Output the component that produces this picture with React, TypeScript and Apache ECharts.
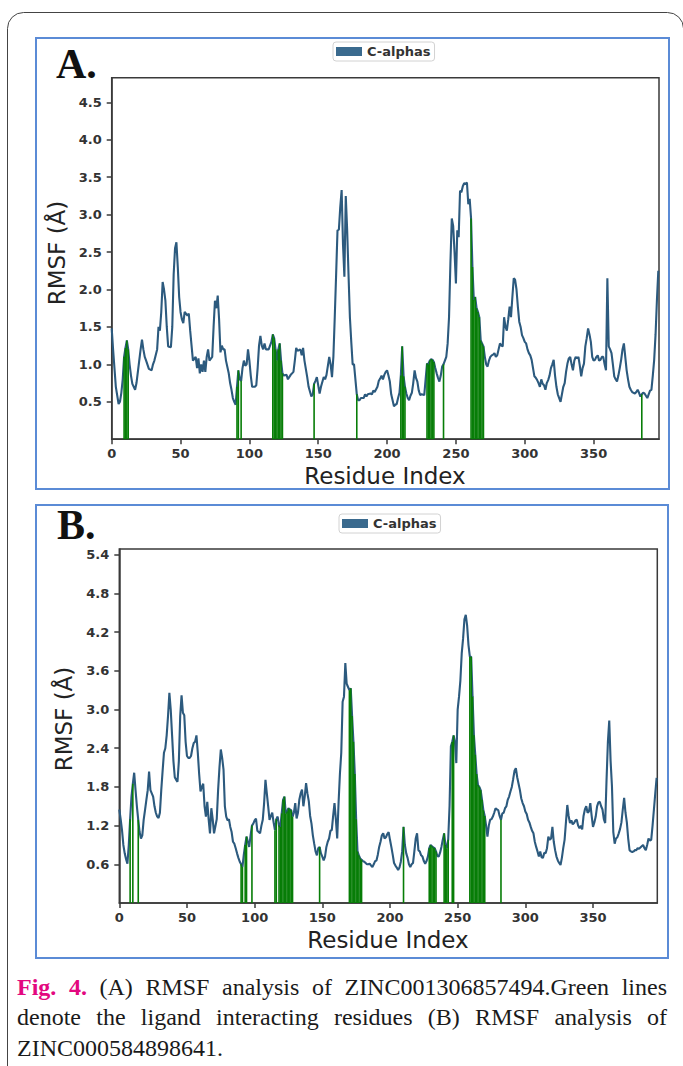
import React, { useEffect, useRef } from 'react';
import * as echarts from 'echarts';

const seriesName = 'C-alphas';
const xTicks = [0, 50, 100, 150, 200, 250, 300, 350];
const yTicksA = [0.5, 1.0, 1.5, 2.0, 2.5, 3.0, 3.5, 4.0, 4.5];
const yTicksB = [0.6, 1.2, 1.8, 2.4, 3.0, 3.6, 4.2, 4.8, 5.4];

// Panel A: residue index, RMSF (Å)
const rmsfA: [number, number][] = [
  [0,1.48],[1,1.2],[2,0.95],[3,0.7],[5,0.47],[6,0.5],[7,0.62],[8,0.8],[9,1.1],[10,1.22],[11,1.32],[12,1.2],[13,1.0],[14,0.85],[15,0.74],[17,0.66],[18,0.75],[19,0.9],
  [20,1.05],[21,1.2],[22,1.33],[23,1.2],[24,1.1],[25,1.05],[27,0.94],[29,0.92],[30,1.0],[31,1.05],[33,1.2],[34,1.5],[35,1.45],[36,1.7],[37,2.1],[38,2.0],[39,1.85],
  [40,1.5],[41,1.24],[43,1.23],[44,1.5],[45,2.2],[46,2.55],[47,2.63],[48,2.3],[49,1.9],[50,1.7],[51,1.6],[52,1.55],[53,1.7],[55,1.65],[56,1.68],[57,1.45],[58,1.25],[59,1.05],
  [61,1.1],[62,0.95],[63,1.08],[64,0.88],[65,1.0],[66,0.9],[67,1.05],[68,0.9],[69,1.1],[70,1.2],[71,1.05],[73,1.1],[74,1.5],[75,1.85],[76,1.75],[77,1.92],[78,1.6],[79,1.16],
  [80,1.25],[81,1.2],[82,1.2],[83,1.05],[85,0.88],[86,0.75],[87,0.66],[88,0.55],[89,0.5],[90,0.46],[91,0.7],[92,0.92],[93,0.8],[94,0.78],[95,0.95],[96,1.05],[97,0.98],[98,1.0],[99,1.2],
  [100,1.05],[101,0.85],[102,0.7],[104,0.7],[105,0.72],[106,0.95],[107,1.25],[108,1.38],[109,1.25],[110,1.2],[111,1.28],[112,1.2],[114,1.2],[115,1.25],[116,1.3],[117,1.4],[118,1.35],[119,1.2],
  [120,1.05],[121,1.2],[122,1.28],[123,1.05],[124,0.88],[125,0.85],[127,0.86],[128,0.8],[130,0.86],[131,0.88],[132,0.9],[133,1.05],[134,1.22],[135,1.18],[137,1.2],[138,1.12],[139,1.22],
  [140,1.05],[142,0.83],[143,0.7],[145,0.57],[146,0.6],[147,0.74],[148,0.78],[149,0.83],[150,0.72],[151,0.61],[152,0.7],[154,0.83],[155,0.8],[156,0.86],[157,0.98],[158,1.1],[159,1.0],
  [160,0.83],[161,1.1],[162,1.63],[163,2.2],[164,2.79],[165,2.8],[166,3.1],[167,3.33],[168,2.6],[169,2.17],[170,3.25],[171,2.8],[172,2.2],[173,1.63],[174,1.3],[175,1.0],[176,1.0],[177,0.8],[178,0.6],[179,0.52],
  [180,0.52],[181,0.55],[183,0.55],[184,0.6],[185,0.57],[186,0.6],[188,0.61],[189,0.6],[190,0.65],[191,0.63],[193,0.7],[194,0.78],[195,0.81],[196,0.85],[197,0.8],[198,0.86],[199,0.9],
  [200,0.92],[201,0.85],[202,0.77],[203,0.6],[204,0.52],[205,0.44],[206,0.46],[207,0.47],[208,0.55],[209,0.62],[210,0.85],[211,1.24],[212,0.84],[213,0.7],[214,0.61],[215,0.55],[216,0.52],[217,0.58],[218,0.62],[219,0.75],
  [220,0.92],[221,0.82],[222,0.77],[223,0.65],[224,0.59],[225,0.6],[227,0.59],[228,0.8],[229,1.01],[230,1.0],[231,1.05],[232,1.07],[233,1.06],[234,1.03],[235,0.95],[236,0.88],[237,0.82],[238,0.77],[239,0.85],
  [240,0.97],[241,1.0],[242,1.05],[243,1.1],[244,1.28],[245,1.63],[246,2.35],[247,2.95],[248,2.85],[249,2.5],[250,2.08],[251,2.79],[252,2.7],[253,3.32],[254,3.3],[255,3.38],[256,3.42],[257,3.41],[258,3.43],[259,3.14],
  [260,3.21],[261,2.95],[262,2.3],[263,1.86],[264,1.9],[265,1.75],[266,1.7],[267,1.63],[268,1.32],[269,1.28],[270,1.24],[271,1.1],[272,1.0],[273,0.97],[274,1.05],[275,1.1],[276,1.12],[277,1.13],[278,1.15],[279,1.1],
  [280,1.12],[281,1.2],[282,1.28],[283,1.25],[284,1.24],[285,1.63],[286,1.5],[287,1.45],[288,1.6],[289,1.77],[290,1.63],[291,1.9],[292,2.15],[293,2.13],[294,2.0],[295,1.77],[296,1.57],[297,1.5],[298,1.39],[299,1.35],
  [300,1.3],[301,1.28],[302,1.2],[303,1.15],[304,1.12],[305,1.06],[306,0.95],[307,0.84],[308,0.82],[309,0.79],[310,0.75],[311,0.7],[312,0.8],[313,0.74],[314,0.72],[315,0.66],[316,0.75],[317,0.79],[318,0.85],[319,0.95],
  [320,1.0],[321,1.06],[322,0.85],[323,0.7],[324,0.6],[325,0.55],[326,0.5],[327,0.6],[328,0.7],[329,0.75],[330,0.9],[331,1.01],[332,1.08],[333,1.1],[334,1.0],[335,0.92],[336,1.05],[337,1.1],[338,1.08],[339,1.1],
  [340,0.98],[341,0.84],[342,0.95],[343,1.01],[344,1.24],[345,1.35],[346,1.48],[347,1.4],[348,1.3],[349,1.1],[350,1.05],[351,1.06],[352,1.1],[353,1.12],[354,1.05],[355,1.06],[356,1.1],[357,1.1],[358,1.0],[359,0.92],
  [360,2.15],[361,1.24],[362,1.2],[363,1.15],[364,1.0],[365,0.84],[366,0.8],[367,0.77],[368,0.85],[369,0.95],[370,1.06],[371,1.2],[372,1.28],[373,1.1],[374,0.92],[375,0.8],[376,0.7],[377,0.66],[378,0.63],
  [380,0.61],[381,0.63],[382,0.66],[383,0.62],[384,0.57],[385,0.6],[386,0.62],[387,0.61],[388,0.58],[389,0.55],[390,0.6],[391,0.65],[392,0.66],[393,0.85],[394,1.06],[395,1.4],[396,1.86],[397,2.25]
];
const contactsA = [9, 10, 11, 12, 91, 92, 94, 117, 118, 119, 120, 121, 122, 123, 124, 147, 178, 210, 211, 212, 213, 229, 230, 231, 232, 233, 234, 241, 261, 262, 263, 264, 265, 266, 267, 268, 269, 270, 385];

// Panel B: residue index, RMSF (Å)
const rmsfB: [number, number][] = [
  [0,1.45],[1,1.3],[2,1.13],[3,0.9],[4,0.77],[5,0.68],[6,0.61],[7,0.9],[8,1.3],[9,1.65],[10,1.85],[11,2.02],[12,1.75],[13,1.5],[14,1.29],[15,1.1],[16,1.0],[17,1.05],[18,1.29],[19,1.44],
  [20,1.6],[21,1.75],[22,2.04],[23,1.75],[24,1.7],[25,1.65],[26,1.5],[27,1.4],[28,1.34],[29,1.32],[30,1.4],[31,1.75],[32,2.05],[33,2.33],[34,2.4],[35,2.6],[36,2.9],[37,3.26],[38,3.0],[39,2.6],
  [40,2.2],[41,1.95],[42,1.91],[43,1.88],[44,2.2],[45,2.9],[46,3.22],[47,2.95],[48,2.91],[49,2.5],[50,2.28],[51,2.25],[52,2.25],[53,2.28],[54,2.4],[55,2.48],[56,2.5],[57,2.6],[58,2.33],[59,2.0],
  [60,1.73],[61,1.8],[62,1.85],[63,1.5],[64,1.34],[65,1.57],[66,1.3],[67,1.08],[68,1.47],[69,1.3],[70,1.08],[71,1.19],[72,1.3],[73,1.75],[74,2.1],[75,2.38],[76,2.25],[77,2.07],[78,1.5],[79,1.34],
  [80,1.28],[81,1.3],[82,1.18],[83,1.1],[84,0.95],[85,0.92],[86,0.85],[87,0.77],[88,0.7],[89,0.64],[90,0.6],[91,0.56],[92,0.75],[93,0.9],[94,1.03],[95,0.95],[96,0.87],[97,1.05],[98,1.2],[99,1.23],
  [100,1.28],[101,1.31],[102,1.12],[103,1.1],[104,1.08],[105,1.2],[106,1.29],[107,1.55],[108,1.91],[109,1.7],[110,1.5],[111,1.29],[112,1.35],[113,1.4],[114,1.25],[115,1.13],[116,1.3],[117,1.34],[118,1.2],[119,1.18],
  [120,1.39],[121,1.6],[122,1.65],[123,1.39],[124,1.42],[125,1.47],[126,1.45],[127,1.44],[128,1.34],[129,1.4],[130,1.55],[131,1.31],[132,1.4],[133,1.6],[134,1.7],[135,1.76],[136,1.5],[137,1.65],[138,1.86],[139,1.7],
  [140,1.58],[141,1.35],[142,1.23],[143,1.05],[144,0.92],[145,0.8],[146,0.74],[147,0.85],[148,0.87],[149,0.77],[150,0.72],[151,0.66],[152,0.72],[153,0.87],[154,0.95],[155,1.0],[156,1.12],[157,1.13],[158,1.35],[159,1.55],
  [160,1.3],[161,1.0],[162,1.55],[163,2.0],[164,2.33],[165,3.12],[166,3.2],[167,3.72],[168,3.4],[169,3.35],[170,3.3],[171,3.33],[172,2.9],[173,2.5],[174,2.0],[175,1.3],[176,0.8],[177,0.74],[178,0.69],[179,0.67],
  [180,0.65],[181,0.64],[182,0.62],[183,0.6],[184,0.6],[185,0.61],[186,0.58],[187,0.56],[188,0.6],[189,0.65],[190,0.66],[191,0.75],[192,0.87],[193,0.95],[194,1.05],[195,1.08],[196,1.0],[197,1.02],[198,1.07],[199,1.1],
  [200,0.98],[201,0.87],[202,0.75],[203,0.62],[204,0.58],[205,0.55],[206,0.51],[207,0.55],[208,0.64],[209,0.8],[210,1.18],[211,0.9],[212,0.77],[213,0.7],[214,0.6],[215,0.56],[216,0.6],[217,0.62],[218,0.8],[219,1.0],
  [220,1.08],[221,0.82],[222,0.8],[223,0.74],[224,0.72],[225,0.65],[226,0.61],[227,0.65],[228,0.72],[229,0.85],[230,0.9],[231,0.88],[232,0.86],[233,0.85],[234,0.8],[235,0.73],[236,0.72],[237,0.78],[238,0.87],[239,0.98],
  [240,1.08],[241,0.9],[242,0.85],[243,0.98],[244,1.5],[245,2.43],[246,2.5],[247,2.6],[248,2.5],[249,2.17],[250,3.0],[251,3.2],[252,3.45],[253,3.87],[254,4.1],[255,4.4],[256,4.47],[257,4.3],[258,4.0],[259,3.82],
  [260,3.82],[261,3.2],[262,2.6],[263,2.3],[264,2.0],[265,1.83],[266,1.8],[267,1.75],[268,1.6],[269,1.44],[270,1.35],[271,1.2],[272,1.03],[273,1.2],[274,1.29],[275,1.3],[276,1.34],[277,1.4],[278,1.47],[279,1.45],
  [280,1.44],[281,1.35],[282,1.29],[283,1.39],[284,1.4],[285,1.47],[286,1.5],[287,1.6],[288,1.65],[289,1.73],[290,1.8],[291,1.92],[292,2.05],[293,2.09],[294,1.95],[295,1.85],[296,1.75],[297,1.62],[298,1.55],[299,1.5],
  [300,1.42],[301,1.38],[302,1.29],[303,1.25],[304,1.18],[305,1.12],[306,1.08],[307,0.95],[308,0.87],[309,0.8],[310,0.72],[311,0.8],[312,0.71],[313,0.7],[314,0.78],[315,0.77],[316,0.85],[317,1.03],[318,0.98],[319,1.0],
  [320,1.18],[321,0.95],[322,0.82],[323,0.72],[324,0.66],[325,0.62],[326,0.59],[327,0.7],[328,0.85],[329,0.98],[330,1.25],[331,1.52],[332,1.35],[333,1.24],[334,1.28],[335,1.22],[336,1.24],[337,1.28],[338,1.29],[339,1.2],
  [340,1.16],[341,1.2],[342,1.14],[343,1.35],[344,1.45],[345,1.5],[346,1.4],[347,1.42],[348,1.55],[349,1.35],[350,1.18],[351,1.25],[352,1.34],[353,1.5],[354,1.56],[355,1.57],[356,1.5],[357,1.45],[358,1.3],[359,1.24],
  [360,1.91],[361,2.5],[362,2.83],[363,2.2],[364,1.81],[365,1.1],[366,0.92],[367,1.0],[368,1.02],[369,1.08],[370,1.15],[371,1.25],[372,1.45],[373,1.63],[374,1.4],[375,1.25],[376,1.0],[377,0.82],[378,0.8],[379,0.79],
  [380,0.8],[381,0.82],[382,0.82],[383,0.85],[384,0.84],[385,0.86],[386,0.88],[387,0.9],[388,0.85],[389,0.82],[390,0.9],[391,1.0],[392,0.97],[393,0.98],[394,1.2],[395,1.45],[396,1.7],[397,1.94]
];
const contactsB = [8, 10, 14, 90, 91, 93, 94, 98, 115, 116, 118, 119, 120, 121, 122, 123, 124, 125, 126, 127, 128, 148, 170, 171, 172, 173, 174, 175, 176, 177, 178, 179, 210, 229, 230, 231, 232, 233, 234, 240, 241, 242, 243, 246, 247, 259, 260, 261, 262, 263, 264, 265, 266, 267, 268, 269, 270, 282];

const captionLine1 = ['(A)', 'RMSF', 'analysis', 'of', 'ZINC001306857494.Green', 'lines'];
const captionLine2 = ['denote', 'the', 'ligand', 'interacting', 'residues', '(B)', 'RMSF', 'analysis', 'of'];
const captionLine3 = 'ZINC000584898641.';
const captionLabel = ['Fig.', '4.'];

const LINE_COLOR = '#2c5a7e';
const LEGEND_PATCH = '#3a6a8e';
const GREEN = '#077d07';
const PANEL_BLUE = '#5b8bd6';

function contactData(rmsf: [number, number][], residues: number[]) {
  const m = new Map(rmsf.map(([r, v]) => [r, v]));
  return residues.map((r) => [r, m.get(r) ?? 0]);
}

export default function App() {
  const ref = useRef<HTMLDivElement>(null);
  useEffect(() => {
    if (!ref.current) return;
    const chart = echarts.init(ref.current, null, { renderer: 'svg' });

    const canvas = document.createElement('canvas');
    const ctx = canvas.getContext('2d')!;
    const capSize = 24;
    const fontReg = `${capSize}px "Liberation Serif"`;
    const fontBold = `bold ${capSize}px "Liberation Serif"`;
    const measure = (t: string, f: string) => { ctx.font = f; return ctx.measureText(t).width; };

    const capLeft = 17, capRight = 667;
    const words1 = [
      ...captionLabel.map((t) => ({ t, bold: true, color: '#e3087f' })),
      ...captionLine1.map((t) => ({ t, bold: false, color: '#1a1a1a' })),
    ];
    const words2 = captionLine2.map((t) => ({ t, bold: false, color: '#1a1a1a' }));
    const justify = (words: { t: string; bold: boolean; color: string }[], y: number) => {
      const widths = words.map((w) => measure(w.t, w.bold ? fontBold : fontReg));
      const total = widths.reduce((a, b) => a + b, 0);
      const gap = (capRight - capLeft - total) / (words.length - 1);
      let x = capLeft;
      return words.map((w, i) => {
        const el = {
          type: 'text', x, y, silent: true,
          style: { text: w.t, fontFamily: 'Liberation Serif', fontSize: capSize, fontWeight: w.bold ? 'bold' : 'normal', fill: w.color, align: 'left', verticalAlign: 'middle' },
        };
        x += widths[i] + gap;
        return el;
      });
    };

    const axisFont = { fontFamily: 'DejaVu Sans', fontSize: 13, fontWeight: 'bold', color: '#333' };
    const makeX = (gridIndex: number) => ({
      type: 'value', gridIndex, min: 0, max: 397.5,
      splitLine: { show: false },
      axisLine: { show: true, lineStyle: { color: '#3a3a3a', width: 1.5 } },
      axisTick: { show: true, inside: false, length: 5, customValues: xTicks, lineStyle: { color: '#3a3a3a', width: 1.5 } },
      axisLabel: { customValues: xTicks, margin: 8, formatter: (v: number) => String(v), ...axisFont },
    });
    const makeY = (gridIndex: number, max: number, ticks: number[]) => ({
      type: 'value', gridIndex, min: 0, max,
      splitLine: { show: false },
      axisLine: { show: true, lineStyle: { color: '#3a3a3a', width: 1.5 } },
      axisTick: { show: true, inside: false, length: 5, customValues: ticks, lineStyle: { color: '#3a3a3a', width: 1.5 } },
      axisLabel: { customValues: ticks, margin: 10, formatter: (v: number) => v.toFixed(1), ...axisFont },
    });

    const renderVLine = (params: any, api: any) => {
      const x = api.value(0);
      const y = api.value(1);
      const p0 = api.coord([x, 0]);
      const p1 = api.coord([x, y]);
      return {
        type: 'line',
        shape: { x1: p0[0], y1: p0[1], x2: p1[0], y2: p1[1] },
        style: { stroke: GREEN, lineWidth: 1.6 },
      };
    };

    const legendBase = {
      data: [seriesName], icon: 'rect', itemWidth: 26, itemHeight: 9,
      padding: [3, 4, 3, 3], borderColor: '#d2d2d2', borderWidth: 1, borderRadius: 3,
      backgroundColor: '#fff', selectedMode: false,
      itemStyle: { color: LEGEND_PATCH },
      textStyle: { fontFamily: 'DejaVu Sans', fontSize: 13, fontWeight: 'bold', color: '#333' },
    };

    const gridBox = { show: true, borderColor: '#3a3a3a', borderWidth: 1.5, backgroundColor: '#fff' };

    const option: any = {
      animation: false,
      backgroundColor: '#fff',
      grid: [
        { left: 111.7, top: 77.7, width: 547.3, height: 361.5, ...gridBox },
        { left: 119.3, top: 549, width: 538, height: 354, ...gridBox },
      ],
      xAxis: [makeX(0), makeX(1)],
      yAxis: [makeY(0, 4.83, yTicksA), makeY(1, 5.49, yTicksB)],
      legend: [
        { ...legendBase, left: 333, top: 42 },
        { ...legendBase, left: 339, top: 514 },
      ],
      series: [
        { name: seriesName, type: 'line', xAxisIndex: 0, yAxisIndex: 0, data: rmsfA, symbol: 'none', color: LINE_COLOR, lineStyle: { color: LINE_COLOR, width: 2.1 }, z: 2 },
        { name: 'contactsA', type: 'custom', xAxisIndex: 0, yAxisIndex: 0, data: contactData(rmsfA, contactsA), renderItem: renderVLine, z: 3, silent: true },
        { name: seriesName, type: 'line', xAxisIndex: 1, yAxisIndex: 1, data: rmsfB, symbol: 'none', color: LINE_COLOR, lineStyle: { color: LINE_COLOR, width: 2.1 }, z: 2 },
        { name: 'contactsB', type: 'custom', xAxisIndex: 1, yAxisIndex: 1, data: contactData(rmsfB, contactsB), renderItem: renderVLine, z: 3, silent: true },
      ],
      graphic: {
        elements: [
          { type: 'rect', z: -10, silent: true, shape: { x: 7.5, y: 12.5, width: 676, height: 1100, r: 16 }, style: { fill: '#fff', stroke: '#444', lineWidth: 1 } },
          { type: 'rect', z: -9, silent: true, shape: { x: 36, y: 38, width: 633, height: 451 }, style: { fill: '#fff', stroke: PANEL_BLUE, lineWidth: 2 } },
          { type: 'rect', z: -9, silent: true, shape: { x: 36, y: 505, width: 632, height: 453 }, style: { fill: '#fff', stroke: PANEL_BLUE, lineWidth: 2 } },
          { type: 'text', x: 56, y: 64, silent: true, style: { text: 'A.', fontFamily: 'Liberation Serif', fontSize: 42, fontWeight: 'bold', fill: '#111', align: 'left', verticalAlign: 'middle' } },
          { type: 'text', x: 57, y: 525, silent: true, style: { text: 'B.', fontFamily: 'Liberation Serif', fontSize: 42, fontWeight: 'bold', fill: '#111', align: 'left', verticalAlign: 'middle' } },
          { type: 'text', x: 57, y: 253, rotation: Math.PI / 2, silent: true, style: { text: 'RMSF (Å)', fontFamily: 'DejaVu Sans', fontSize: 23, fill: '#222', align: 'center', verticalAlign: 'middle' } },
          { type: 'text', x: 64, y: 719, rotation: Math.PI / 2, silent: true, style: { text: 'RMSF (Å)', fontFamily: 'DejaVu Sans', fontSize: 23, fill: '#222', align: 'center', verticalAlign: 'middle' } },
          { type: 'text', x: 385, y: 476, silent: true, style: { text: 'Residue Index', fontFamily: 'DejaVu Sans', fontSize: 23, fill: '#222', align: 'center', verticalAlign: 'middle' } },
          { type: 'text', x: 388, y: 940, silent: true, style: { text: 'Residue Index', fontFamily: 'DejaVu Sans', fontSize: 23, fill: '#222', align: 'center', verticalAlign: 'middle' } },
          ...justify(words1, 986.6),
          ...justify(words2, 1016.8),
          { type: 'text', x: capLeft, y: 1047.8, silent: true, style: { text: captionLine3, fontFamily: 'Liberation Serif', fontSize: capSize, fill: '#1a1a1a', align: 'left', verticalAlign: 'middle' } },
        ],
      },
    };
    chart.setOption(option);
    return () => chart.dispose();
  }, []);
  return <div ref={ref} style={{ position: 'absolute', left: 0, top: 0, width: 683, height: 1066, background: '#fff' }} />;
}
